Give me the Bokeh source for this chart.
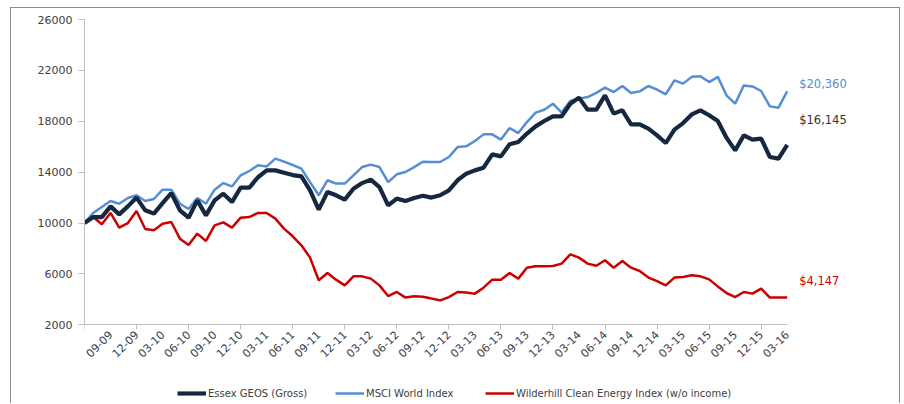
import math
from bokeh.plotting import figure
from bokeh.models import (Range1d, FixedTicker, Legend, LegendItem, ColumnDataSource)
from bokeh.core.properties import value
from bokeh.embed import file_html
from bokeh.resources import INLINE

# ---------------- data (monthly, 06-2009 .. 03-2016) ----------------
months = ["06-09", "07-09", "08-09", "09-09", "10-09", "11-09", "12-09",
          "01-10", "02-10", "03-10", "04-10", "05-10", "06-10", "07-10", "08-10", "09-10", "10-10", "11-10", "12-10",
          "01-11", "02-11", "03-11", "04-11", "05-11", "06-11", "07-11", "08-11", "09-11", "10-11", "11-11", "12-11",
          "01-12", "02-12", "03-12", "04-12", "05-12", "06-12", "07-12", "08-12", "09-12", "10-12", "11-12", "12-12",
          "01-13", "02-13", "03-13", "04-13", "05-13", "06-13", "07-13", "08-13", "09-13", "10-13", "11-13", "12-13",
          "01-14", "02-14", "03-14", "04-14", "05-14", "06-14", "07-14", "08-14", "09-14", "10-14", "11-14", "12-14",
          "01-15", "02-15", "03-15", "04-15", "05-15", "06-15", "07-15", "08-15", "09-15", "10-15", "11-15", "12-15",
          "01-16", "02-16", "03-16"]

essex = [10000, 10470, 10470, 11310, 10680, 11310, 12000, 11000, 10740, 11570,
         12360, 11000, 10420, 11780, 10600, 11780, 12310, 11650, 12780, 12780,
         13600, 14140, 14140, 13960, 13770, 13670, 12570, 11050, 12440, 12180,
         11840, 12700, 13140, 13410, 12830, 11390, 11920, 11730, 11970, 12150,
         12000, 12180, 12570, 13360, 13880, 14140, 14350, 15400, 15240, 16190,
         16370, 17030, 17600, 18020, 18390, 18390, 19380, 19860, 18910, 18910,
         20040, 18600, 18860, 17760, 17760, 17420, 16890, 16290, 17340, 17860,
         18540, 18860, 18470, 18020, 16710, 15710, 16890, 16560, 16630, 15190,
         15060, 16145]

msci = [10000, 10790, 11260, 11730, 11520, 11970, 12180, 11730, 11890, 12620,
        12620, 11520, 11100, 11970, 11520, 12620, 13140, 12880, 13750, 14090,
        14540, 14450, 15060, 14830, 14560, 14280, 13220, 12180, 13360, 13100,
        13100, 13750, 14400, 14590, 14400, 13220, 13830, 14010, 14400, 14820,
        14800, 14800, 15190, 15970, 16030, 16450, 16970, 16970, 16560, 17470,
        17070, 17940, 18680, 18910, 19380, 18680, 19590, 19780, 19900, 20230,
        20640, 20300, 20770, 20220, 20350, 20770, 20490, 20120, 21220, 20960,
        21490, 21540, 21080, 21490, 20040, 19380, 20820, 20740, 20380, 19170,
        19070, 20360]

wilder = [10000, 10470, 9900, 10790, 9640, 10000, 10940, 9530, 9430, 9950,
          10080, 8770, 8270, 9170, 8590, 9820, 10050, 9640, 10420, 10470,
          10790, 10790, 10350, 9560, 8960, 8250, 7280, 5500, 6070, 5550,
          5100, 5810, 5810, 5630, 5100, 4260, 4580, 4140, 4240, 4210,
          4060, 3920, 4180, 4580, 4530, 4450, 4920, 5550, 5550, 6070,
          5630, 6490, 6600, 6600, 6620, 6810, 7540, 7280, 6810, 6640,
          7070, 6490, 7010, 6490, 6230, 5710, 5440, 5100, 5710, 5760,
          5890, 5810, 5570, 5020, 4500, 4180, 4580, 4450, 4840, 4140,
          4140, 4147]

series_names = ["Essex GEOS (Gross)", "MSCI World Index", "Wilderhill Clean Energy Index (w/o income)"]
y_ticks = [2000, 6000, 10000, 14000, 18000, 22000, 26000]

# ---------------- styling / layout ----------------
FONT = "DejaVu Sans"
C_ESSEX = "#15283f"
C_MSCI = "#558ed5"
C_WILD = "#cc0000"
TXT = "#404040"
AX = "#bfbfbf"

W, H = 890, 396
LEFT, TOP = 73, 11
DATA_W = 702.7           # px spanned by the monthly data
DATA_H = 305.3           # px spanned by the value axis (2000..26000)
FRAME_W = W - LEFT
FRAME_H = H - TOP

idx = list(range(len(months)))
label_idx = [i for i in idx if i % 3 == 0 and i > 0]
tick_idx = [i for i in idx if i % 6 == 0]
x_end = (len(months) - 1) * FRAME_W / DATA_W
y_low = y_ticks[-1] - FRAME_H * (y_ticks[-1] - y_ticks[0]) / DATA_H

src = ColumnDataSource(dict(x=idx, essex=essex, msci=msci, wilder=wilder))

p = figure(width=W, height=H, output_backend="svg", toolbar_location=None,
           x_range=Range1d(0, x_end), y_range=Range1d(y_low, y_ticks[-1]),
           min_border_left=LEFT, min_border_right=0, min_border_top=TOP, min_border_bottom=0)
p.styles = {"margin-left": "10px", "margin-top": "7px",
            "border-top": "1px solid #8c8c8c", "border-left": "1px solid #8c8c8c",
            "border-right": "1px solid #8c8c8c"}
p.outline_line_color = None
p.xgrid.visible = False
p.ygrid.visible = False
p.background_fill_color = "white"
p.border_fill_color = "white"

r_m = p.line("x", "msci", source=src, color=C_MSCI, line_width=2.5)
r_w = p.line("x", "wilder", source=src, color=C_WILD, line_width=2.5)
r_e = p.line("x", "essex", source=src, color=C_ESSEX, line_width=4.2)

# axes
xa = p.xaxis[0]
xa.fixed_location = y_ticks[0]
xa.bounds = (0, len(months) - 1)
xa.ticker = FixedTicker(ticks=label_idx, minor_ticks=tick_idx)
xa.major_label_overrides = {i: months[i] for i in label_idx}
xa.major_label_orientation = math.pi / 4
xa.major_tick_line_color = None
xa.major_tick_out = 2
xa.major_tick_in = 0
xa.minor_tick_line_color = AX
xa.minor_tick_out = 5
xa.minor_tick_in = 0
xa.axis_line_color = AX
xa.major_label_text_font = FONT
xa.major_label_text_font_size = "11px"
xa.major_label_text_color = TXT
xa.major_label_standoff = 3

ya = p.yaxis[0]
ya.bounds = (y_ticks[0], y_ticks[-1])
ya.ticker = FixedTicker(ticks=y_ticks, minor_ticks=[])
ya.major_tick_line_color = AX
ya.major_tick_out = 6
ya.major_tick_in = 0
ya.minor_tick_line_color = None
ya.axis_line_color = AX
ya.major_label_text_font = FONT
ya.major_label_text_font_size = "11px"
ya.major_label_text_color = TXT
ya.major_label_standoff = 6

# end-value labels
for vals, col, dy in [(msci, C_MSCI, -7), (essex, "#333333", -25), (wilder, C_WILD, -16)]:
    p.text(x=[idx[-1]], y=[vals[-1]], text=["${:,}".format(vals[-1])],
           x_offset=12, y_offset=dy, text_baseline="middle", text_align="left",
           text_font=value(FONT), text_font_size="11.5px", text_color=col)

# legends (one per entry, in the strip below the axis labels)
for r, name, lx in [(r_e, series_names[0], 93), (r_m, series_names[1], 251), (r_w, series_names[2], 401)]:
    lg = Legend(items=[LegendItem(label=name, renderers=[r])], location=(lx, 1),
                orientation="horizontal", glyph_width=29, glyph_height=20, label_height=20,
                label_standoff=2, padding=0, margin=0, spacing=0,
                border_line_color=None, background_fill_alpha=0,
                label_text_font=FONT, label_text_font_size="10px", label_text_color=TXT)
    p.add_layout(lg, "center")

open("out.html", "w").write(file_html(p, INLINE))
